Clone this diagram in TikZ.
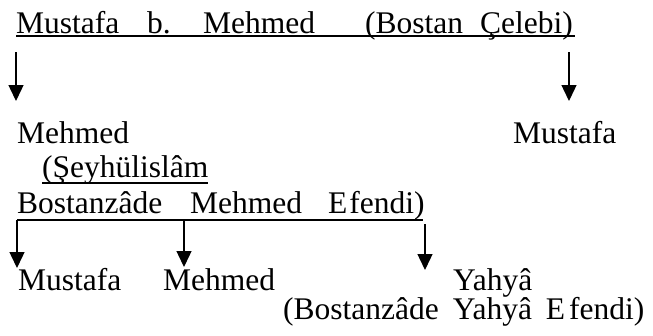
\documentclass[tikz,border=0pt]{standalone}
\usepackage{fontspec}
\setmainfont{Liberation Serif}
\usetikzlibrary{arrows.meta}

\tikzset{
  word/.style={inner sep=0pt, anchor=base west, font=\fontsize{31.5}{36}\selectfont},
  rule/.style={line width=1.4pt},
  descent/.style={line width=1.4pt, -{Triangle[width=15pt,length=16pt]}},
}

\begin{document}
\begin{tikzpicture}[x=1pt,y=-1pt]
  \useasboundingbox (0,0) rectangle (653,335);

  % founder
  \node[word] (f1) at (16,33) {Mustafa};
  \node[word] (f2) at (147,33) {b.};
  \node[word] (f3) at (203,33) {Mehmed};
  \node[word] (f4) at (365,33) {(Bostan};
  \node[word] (f5) at (480,33) {Çelebi)};
  \coordinate (fl) at (16,36);
  \coordinate (fr) at (575,36);
  \draw[rule] (fl) -- (fr);

  % first generation
  \coordinate (s1) at (16,52);
  \coordinate (s2) at (569,52);
  \coordinate (t1) at (16,101);
  \coordinate (t2) at (569,101);
  \draw[descent] (s1) -- (t1);
  \draw[descent] (s2) -- (t2);

  \node[word] (m1) at (17,143) {Mehmed};
  \node[word] (m2) at (513,143) {Mustafa};
  \node[word] (m3) at (42,177) {(Şeyhülislâm};
  \draw[rule] (42,183) -- (208,183);
  \node[word] (m4) at (17,213) {Bostanzâde};
  \node[word] (m5) at (190,213) {Mehmed};
  \node[word] (m6) at (328,213) {E\hspace{2pt}fendi)};

  % bracket to the second generation
  \coordinate (bl) at (17,220);
  \coordinate (bm) at (184,220);
  \coordinate (br) at (423,220);
  \draw[rule] (bl) -- (br);
  \coordinate (u1) at (17,268);
  \coordinate (u2) at (184,267);
  \coordinate (s3) at (425,224);
  \coordinate (u3) at (425,270);
  \draw[descent] (bl) -- (u1);
  \draw[descent] (bm) -- (u2);
  \draw[descent] (s3) -- (u3);

  % second generation
  \node[word] (c1) at (18,290) {Mustafa};
  \node[word] (c2) at (163,290) {Mehmed};
  \node[word] (c3) at (453,290) {Yahyâ};
  \node[word] (c4) at (283,319) {(Bostanzâde\hspace{14pt}Yahyâ\hspace{14pt}E\hspace{4pt}fendi)};
\end{tikzpicture}
\end{document}
